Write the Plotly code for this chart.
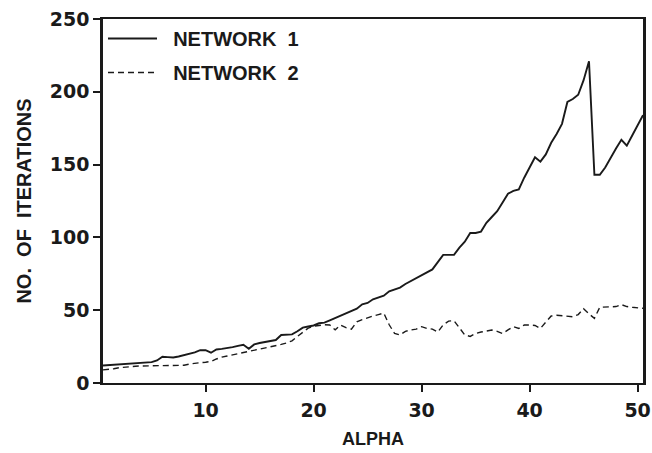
import plotly.graph_objects as go

alpha = [0.5 + 0.5 * i for i in range(101)]

network1 = [
    12, 12.3, 12.5, 12.8, 13.0, 13.3, 13.5, 13.8, 14.0, 14.3,   # 0.5 - 5.0
    15.5, 18, 17.8, 17.5, 18.2, 19, 20, 21, 22.5, 22.5,        # 5.5 - 10.0
    20.8, 23, 23.4, 23.8, 24.6, 25.5, 26.2, 23.5, 26.5, 27.5,  # 10.5 - 15.0
    28.2, 29, 29.5, 33, 33.2, 33.4, 35.5, 38, 38.8, 39.5,      # 15.5 - 20.0
    41, 41.5, 43, 44.5, 46, 47.5, 49.5, 51, 54, 55,            # 20.5 - 25.0
    57.5, 59, 60, 63, 64, 65.5, 68, 70, 72, 74,                # 25.5 - 30.0
    76, 78, 83, 88, 88, 88, 93, 97, 103, 103,                  # 30.5 - 35.0
    104, 110, 114, 118, 124, 130, 132, 133, 141, 148,          # 35.5 - 40.0
    155, 152, 157, 165, 171, 178, 193, 195, 198, 208,          # 40.5 - 45.0
    221, 143, 143, 148, 155, 161, 167, 163, 170, 177,          # 45.5 - 50.0
    184,                                                       # 50.5
]

network2 = [
    9, 9.3, 9.8, 10.5, 11, 11.2, 11.5, 11.7, 11.8, 11.9,       # 0.5 - 5.0
    12, 12, 12, 12, 12, 12.2, 13, 13.7, 14, 14.3,              # 5.5 - 10.0
    14.8, 16.5, 17.8, 18.5, 19.3, 20, 20.6, 21.5, 22.3, 23,    # 10.5 - 15.0
    23.8, 24.5, 25.5, 26.5, 27.5, 29, 32, 35, 37.7, 39,        # 15.5 - 20.0
    39.5, 40, 39.8, 36.5, 39.8, 38, 37, 42, 43.5, 45,          # 20.5 - 25.0
    46, 47, 48, 40, 34, 33, 35.5, 36.4, 37, 38.7,              # 25.5 - 30.0
    37.5, 37, 35, 40, 42.5, 42.8, 38, 33, 32, 34,              # 30.5 - 35.0
    35, 35.5, 36.4, 35.5, 34, 36.5, 38.7, 37.5, 39.8, 39.8,    # 35.5 - 40.0
    39.5, 37.5, 42, 46, 46.5, 46, 45.5, 45.5, 47, 51,          # 40.5 - 45.0
    47.5, 44.4, 52, 52, 52, 52.5, 53.8, 52.5, 52, 51.5,        # 45.5 - 50.0
    51.3,                                                      # 50.5
]

x_ticks = [10, 20, 30, 40, 50]
y_ticks = [0, 50, 100, 150, 200, 250]

FONT = "Liberation Sans, Arial, sans-serif"
TICKFONT = "DejaVu Sans, sans-serif"
INK = "#1a1a1a"

fig = go.Figure()
fig.add_trace(go.Scatter(
    x=alpha, y=network1, mode="lines", name="&nbsp;&nbsp;<b>NETWORK&nbsp;&nbsp;1</b>",
    legendgroup="a",
    line=dict(color=INK, width=1.9),
))
fig.add_trace(go.Scatter(
    x=alpha, y=network2, mode="lines", name="&nbsp;&nbsp;<b>NETWORK&nbsp;&nbsp;2</b>",
    legendgroup="b",
    line=dict(color=INK, width=1.4, dash="6px,4px"),
))

fig.update_layout(
    width=652, height=453,
    margin=dict(l=103, r=9, t=19, b=70, autoexpand=False),
    paper_bgcolor="white", plot_bgcolor="white",
    font=dict(family=FONT, size=18, color=INK),
    showlegend=True,
    legend=dict(
        x=0.0, y=1.0, xanchor="left", yanchor="top",
        bgcolor="rgba(0,0,0,0)", borderwidth=0,
        font=dict(family=FONT, size=20, color=INK),
        tracegroupgap=5, traceorder="grouped", itemwidth=49,
    ),
    xaxis=dict(
        range=[0.5, 50.5], tickvals=x_ticks, ticktext=["<b>%d</b>" % v for v in x_ticks],
        ticks="outside", ticklen=7, tickwidth=2, tickcolor=INK,
        showline=True, linewidth=2, linecolor=INK, mirror=True,
        showgrid=False, zeroline=False, ticklabelstandoff=2, automargin=False,
        tickfont=dict(family=TICKFONT, size=19, color=INK),
        title=dict(text="<b>ALPHA</b>", font=dict(family=FONT, size=18, color=INK), standoff=13),
    ),
    yaxis=dict(
        range=[0, 250], tickvals=y_ticks, ticktext=["<b>%d</b>" % v for v in y_ticks],
        ticks="outside", ticklen=7, tickwidth=2, tickcolor=INK,
        showline=True, linewidth=2.5, linecolor=INK, mirror=True,
        showgrid=False, zeroline=False, automargin=False,
        tickfont=dict(family=TICKFONT, size=19, color=INK),
        title=dict(text="<b>NO.&nbsp; OF&nbsp; ITERATIONS</b>", font=dict(family=FONT, size=20, color=INK), standoff=13),
    ),
)

fig.write_html("out.html")
